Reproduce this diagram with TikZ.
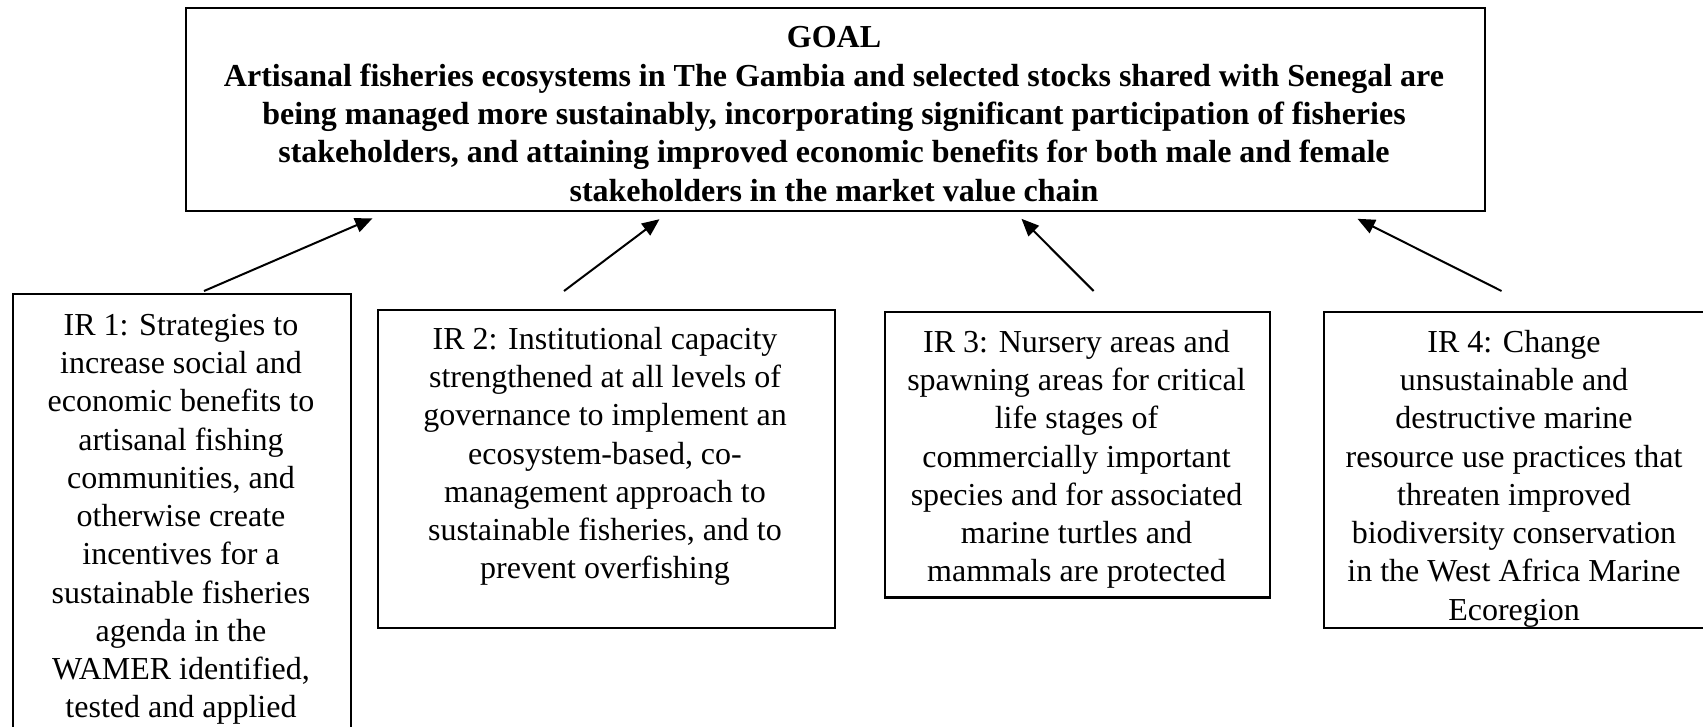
\documentclass[tikz,border=0pt]{standalone}
\usepackage{fontspec}
\setmainfont{Liberation Serif}
\usetikzlibrary{arrows.meta}
\def\pxu{0.75pt}
\begin{document}
\begin{tikzpicture}[x=0.75pt,y=-0.75pt,
  box/.style={draw, line width=1.8pt, rectangle, inner sep=0pt, anchor=north west},
  txt/.style={align=center, inner sep=0pt, anchor=north, font=\fontsize{24}{28.7}\selectfont},
  goaltxt/.style={align=center, inner sep=0pt, anchor=north, font=\bfseries\fontsize{24}{28.7}\selectfont},
  arr/.style={line width=1.5pt, -{Triangle[length=13pt,width=11pt]}}]
\clip (0,0) rectangle (1703,726);
% boxes
\node[box, minimum width=1299*\pxu, minimum height=203*\pxu] (goal) at (184.6,6.5) {};
\node[box, minimum width=338*\pxu, minimum height=470*\pxu] (ir1) at (12,293) {};
\node[box, minimum width=457*\pxu, minimum height=318.2*\pxu] (ir2) at (377,308.5) {};
\node[box, minimum width=384.5*\pxu, minimum height=285.7*\pxu] (ir3) at (884,310.6) {};
\node[box, minimum width=382*\pxu, minimum height=316.1*\pxu] (ir4) at (1323,310.6) {};
% texts
\node[goaltxt] (goalt) at (834,20.9) {\strut GOAL\\Artisanal fisheries ecosystems in The Gambia and selected stocks shared with Senegal are\\being managed more sustainably, incorporating significant participation of fisheries\\stakeholders, and attaining improved economic benefits for both male and female\\stakeholders in the market value chain};
\node[txt] (ir1t) at (181,308.2) {\strut IR 1: Strategies to\\increase social and\\economic benefits to\\artisanal fishing\\communities, and\\otherwise create\\incentives for a\\sustainable fisheries\\agenda in the\\WAMER identified,\\tested and applied};
\node[txt] (ir2t) at (605,322.2) {\strut IR 2: Institutional capacity\\strengthened at all levels of\\governance to implement an\\ecosystem-based, co-\\management approach to\\sustainable fisheries, and to\\prevent overfishing};
\node[txt] (ir3t) at (1076.5,325.2) {\strut IR 3: Nursery areas and\\spawning areas for critical\\life stages of\\commercially important\\species and for associated\\marine turtles and\\mammals are protected};
\node[txt] (ir4t) at (1514,325.2) {\strut IR 4: Change\\unsustainable and\\destructive marine\\resource use practices that\\threaten improved\\biodiversity conservation\\in the West Africa Marine\\Ecoregion};
% arrow ends
\coordinate (t1) at (204,291);
\coordinate (h1) at (372.5,218.3);
\coordinate (t2) at (564,291);
\coordinate (h2) at (659.5,219.2);
\coordinate (t3) at (1093.6,291);
\coordinate (h3) at (1021.5,218.8);
\coordinate (t4) at (1501.5,291);
\coordinate (h4) at (1357.5,218.8);
\draw[arr] (t1) -- (h1);
\draw[arr] (t2) -- (h2);
\draw[arr] (t3) -- (h3);
\draw[arr] (t4) -- (h4);
\end{tikzpicture}
\end{document}
